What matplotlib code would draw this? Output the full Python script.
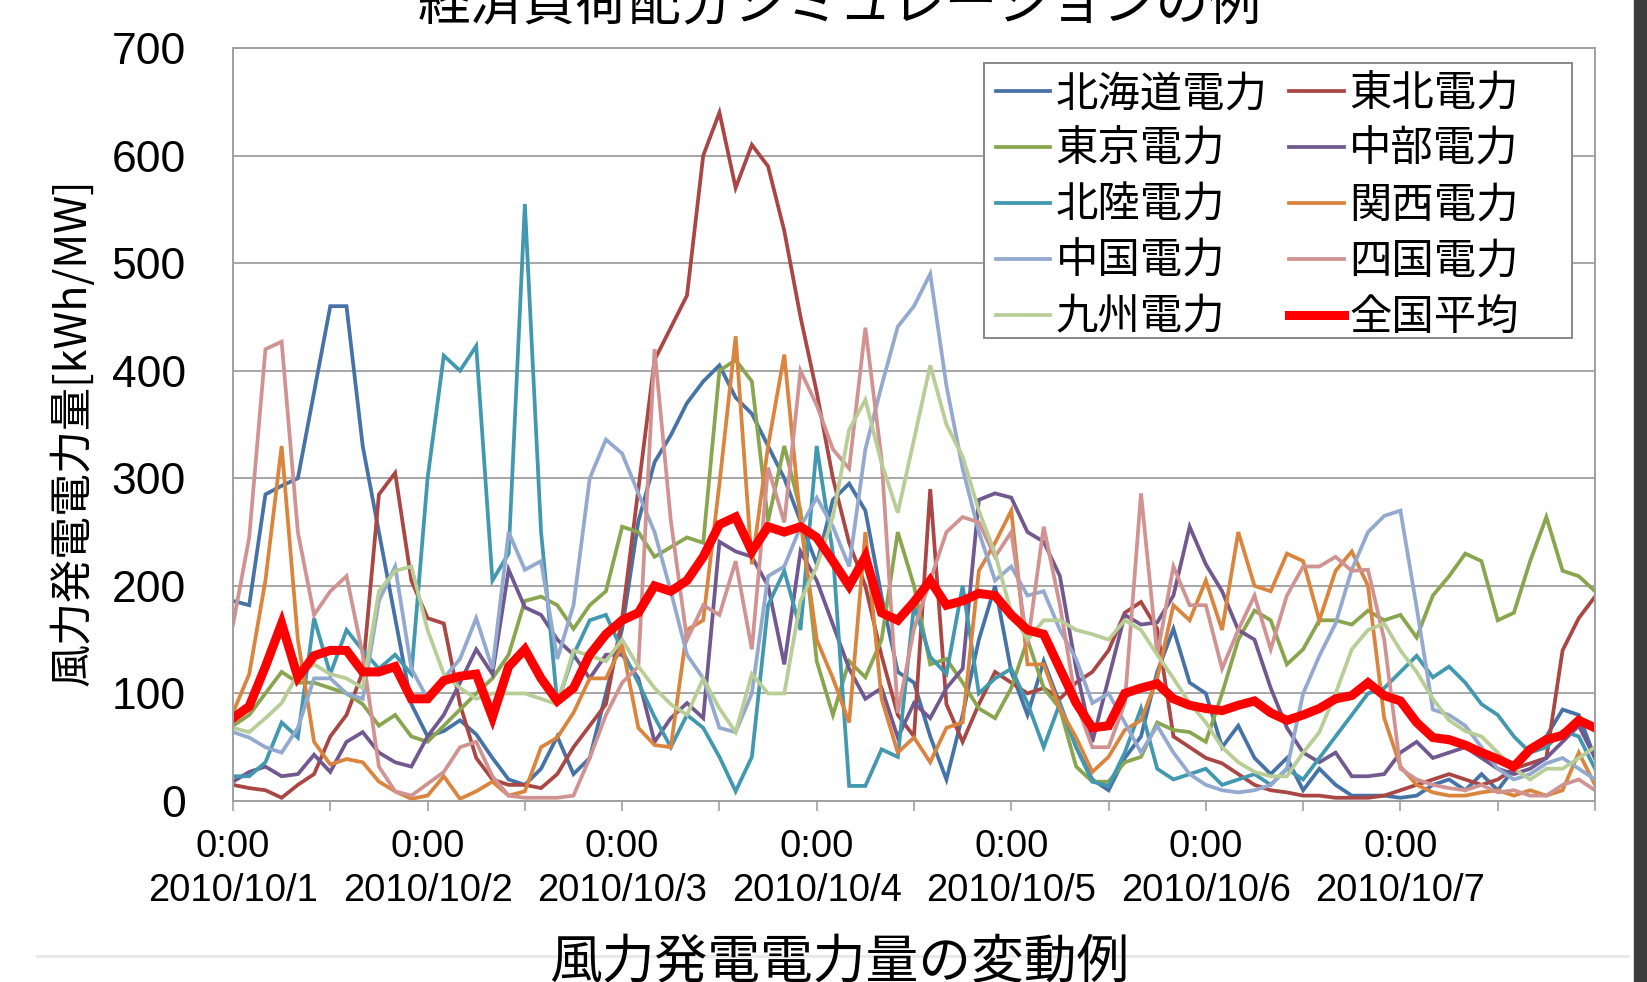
import numpy as np
import matplotlib
matplotlib.use('Agg')
import matplotlib.pyplot as plt
from matplotlib.lines import Line2D
from matplotlib.patches import Rectangle

plt.rcParams['font.family'] = ['Liberation Sans', 'Noto Sans CJK JP']

# hours from 2010/10/1 0:00, every 2 hours
hours = np.arange(0, 169, 2)

hokkaido = [186, 182, 285, 293, 300, 380, 460, 460, 330, 250, 170, 90, 60, 65, 75,
            62, 40, 20, 15, 30, 60, 25, 40, 100, 160, 260, 315, 340, 370,
            390, 405, 375, 360, 330, 300, 260, 220, 280, 295, 270, 190, 120, 110,
            60, 20, 80, 150, 200, 120, 80, 130, 90, 50, 20, 10, 40, 60,
            120, 160, 110, 100, 50, 70, 40, 25, 40, 10, 30, 15, 5, 5,
            5, 3, 5, 15, 20, 10, 25, 10, 30, 50, 60, 85, 80, 40]
tohoku = [15, 12, 10, 3, 15, 25, 60, 80, 120, 285, 305, 205, 170, 165, 90,
          40, 20, 15, 15, 12, 25, 50, 70, 90, 170, 290, 410, 440, 470,
          600, 640, 570, 610, 590, 530, 450, 380, 300, 240, 200, 135, 80, 60,
          290, 90, 55, 90, 120, 110, 100, 105, 95, 110, 120, 140, 175, 185,
          160, 60, 50, 40, 35, 25, 15, 10, 8, 5, 5, 3, 3, 3,
          5, 10, 15, 20, 25, 20, 15, 20, 30, 35, 40, 140, 170, 190]
tokyo = [70, 80, 100, 120, 110, 110, 105, 100, 90, 70, 80, 60, 55, 70, 85,
         100, 114, 136, 186, 190, 182, 160, 182, 195, 255, 250, 227, 236, 245,
         240, 400, 410, 390, 260, 330, 270, 130, 80, 130, 115, 150, 250, 200,
         127, 132, 110, 86, 77, 105, 150, 105, 86, 32, 18, 18, 36, 41,
         73, 66, 64, 55, 100, 150, 177, 168, 127, 141, 168, 168, 164, 177,
         168, 173, 152, 191, 209, 230, 223, 168, 175, 223, 264, 214, 209, 195]
chubu = [18, 27, 32, 23, 25, 43, 27, 55, 64, 45, 36, 32, 60, 80, 110,
         141, 118, 215, 180, 173, 150, 136, 114, 136, 136, 114, 55, 77, 91,
         77, 241, 232, 227, 200, 127, 232, 205, 164, 123, 95, 105, 59, 91,
         77, 105, 123, 280, 286, 282, 250, 241, 209, 123, 55, 114, 173, 164,
         166, 191, 255, 220, 195, 159, 150, 105, 68, 45, 36, 45, 23, 23,
         25, 45, 55, 40, 45, 50, 40, 30, 25, 30, 40, 55, 70, 40]
hokuriku = [23, 23, 36, 73, 59, 170, 118, 159, 140, 123, 136, 118, 300, 414, 400,
            423, 205, 230, 555, 250, 91, 136, 168, 173, 140, 110, 78, 50, 80,
            68, 41, 9, 41, 182, 214, 159, 330, 230, 14, 14, 48, 41, 182,
            134, 118, 200, 100, 114, 123, 91, 50, 91, 50, 18, 14, 45, 86,
            30, 20, 25, 30, 15, 20, 25, 15, 30, 20, 40, 60, 80, 100,
            105, 120, 135, 115, 125, 110, 90, 80, 60, 45, 50, 65, 60, 30]
kansai = [82, 118, 205, 330, 150, 55, 34, 39, 36, 18, 9, 2, 5, 23, 2,
          9, 18, 5, 9, 50, 59, 82, 114, 114, 145, 68, 52, 50, 159,
          168, 295, 432, 220, 330, 415, 260, 150, 114, 73, 250, 95, 45, 59,
          36, 68, 73, 214, 240, 270, 127, 127, 86, 59, 27, 41, 66, 75,
          114, 182, 168, 205, 159, 250, 200, 195, 230, 223, 168, 214, 232, 200,
          77, 32, 15, 8, 5, 5, 8, 10, 5, 10, 5, 10, 45, 15]
chugoku = [64, 59, 50, 45, 68, 114, 114, 100, 95, 186, 218, 123, 95, 114, 132,
           170, 123, 250, 215, 223, 132, 182, 300, 336, 323, 286, 250, 195, 136,
           114, 68, 64, 100, 209, 218, 255, 282, 255, 218, 327, 386, 441, 460,
           490, 386, 309, 250, 205, 218, 191, 195, 159, 132, 91, 100, 73, 45,
           70, 45, 25, 15, 10, 8, 10, 15, 30, 100, 135, 165, 215, 250,
           265, 270, 180, 85, 80, 70, 50, 30, 20, 25, 35, 40, 30, 20]
shikoku = [164, 245, 420, 427, 250, 173, 195, 209, 136, 32, 9, 5, 16, 27, 50,
           55, 23, 5, 3, 3, 3, 5, 40, 80, 110, 125, 420, 261, 150,
           182, 173, 223, 141, 310, 259, 400, 368, 327, 309, 440, 318, 82, 160,
           205, 250, 264, 259, 227, 250, 145, 255, 182, 91, 50, 50, 91, 286,
           136, 218, 182, 182, 123, 159, 191, 141, 191, 218, 218, 227, 214, 215,
           150, 30, 20, 15, 12, 10, 15, 8, 10, 5, 5, 15, 20, 10]
kyushu = [68, 64, 77, 91, 118, 127, 118, 114, 105, 195, 214, 218, 159, 118, 105,
          95, 100, 100, 100, 95, 90, 140, 135, 130, 150, 125, 105, 90, 80,
          114, 86, 64, 118, 100, 100, 186, 218, 264, 345, 373, 314, 268, 336,
          405, 350, 320, 270, 230, 175, 150, 168, 168, 159, 155, 150, 168, 159,
          136, 114, 91, 73, 50, 36, 27, 23, 23, 45, 64, 100, 141, 159,
          165, 140, 120, 95, 75, 65, 60, 45, 30, 20, 30, 30, 40, 50]
national = [77, 88, 125, 165, 115, 135, 140, 140, 120, 120, 125, 95, 95, 112, 116,
            118, 78, 125, 141, 114, 93, 105, 136, 155, 168, 175, 200, 195, 205,
            227, 257, 264, 232, 255, 250, 255, 245, 223, 200, 227, 175, 168, 185,
            205, 182, 186, 193, 191, 173, 159, 155, 123, 91, 68, 70, 100, 105,
            109, 95, 89, 86, 84, 89, 93, 82, 75, 80, 86, 95, 98, 110,
            98, 93, 73, 59, 57, 52, 45, 39, 32, 48, 57, 61, 75, 68]

names = ['北海道電力', '東北電力', '東京電力', '中部電力', '北陸電力',
         '関西電力', '中国電力', '四国電力', '九州電力', '全国平均']
series = [hokkaido, tohoku, tokyo, chubu, hokuriku, kansai, chugoku, shikoku, kyushu, national]
colors = ['#4572A7', '#AA4643', '#89A54E', '#71588F', '#4198AF',
          '#DB843D', '#93A9CF', '#D19392', '#B9CD96', '#FF0000']

day_labels = ['0:00\n2010/10/%d' % d for d in range(1, 8)]

fig = plt.figure(figsize=(16.47, 9.82), dpi=100)
ax = fig.add_axes([233 / 1647, 1 - 801 / 982, 1362 / 1647, 753 / 982])

lines = []
for name, vals, col in zip(names, series, colors):
    lw = 6.5 if name == '全国平均' else 2.7
    ln, = ax.plot(hours, vals, color=col, lw=lw, label=name, solid_joinstyle='miter')
    lines.append(ln)

ax.set_xlim(0, 168)
ax.set_ylim(0, 700)
ax.set_yticks(range(0, 701, 100))
ax.set_xticks(range(0, 169, 12))
xt = []
for t in range(0, 169, 12):
    xt.append(day_labels[t // 24] if t % 24 == 0 and t < 168 else '')
ax.set_xticklabels(xt, linespacing=1.3)
ax.tick_params(axis='y', length=0, pad=34, labelsize=32)
ax.tick_params(axis='x', length=7, width=1.2, color='#A0A0A0', pad=13, labelsize=27.5)
ax.grid(axis='y', color='#A6A6A6', lw=1.4)
ax.set_axisbelow(True)
for s in ax.spines.values():
    s.set_color('#A0A0A0')
    s.set_linewidth(1.4)

ax.set_ylabel('風力発電電力量[kWh/MW]', fontsize=31, family=['Noto Sans CJK JP'])
ax.yaxis.set_label_coords(-0.101, 0.49)

# legend box drawn separately (Excel box has extra room on the right)
ax.add_patch(Rectangle((0.5514, 0.615), 0.4317, 0.365, transform=ax.transAxes,
                       facecolor='white', edgecolor='#888888', lw=1.4, zorder=4.5))

# Excel style row order -> column-major for matplotlib
order = [0, 2, 4, 6, 8, 1, 3, 5, 7, 9]
leg = ax.legend([lines[i] for i in order], [names[i] for i in order], ncol=2,
                loc='upper left', bbox_to_anchor=(0.560, 0.968), borderaxespad=0,
                prop={'family': 'Noto Sans CJK JP', 'size': 30.5},
                handlelength=1.29, handletextpad=0.12, columnspacing=0.52,
                labelspacing=0.28, borderpad=0, frameon=False)
leg.set_zorder(5)

fig.text(0.51, 1 - 20 / 982, '経済負荷配分シミュレーションの例', ha='center',
         va='baseline', fontsize=38, family=['Noto Sans CJK JP'])
fig.add_artist(Line2D([37 / 1647, 1628 / 1647], [1 - 956 / 982] * 2,
                      color='#E8E8E8', lw=2, transform=fig.transFigure, zorder=0))
fig.text(0.5095, 1 - 935 / 982, '風力発電電力量の変動例', ha='center', va='top',
         fontsize=38, family=['Noto Sans CJK JP'])
fig.add_artist(Rectangle((1634 / 1647, 0), 13 / 1647, 1, transform=fig.transFigure,
                         color='#3C3C3C'))

fig.savefig('out.png', dpi=100)
